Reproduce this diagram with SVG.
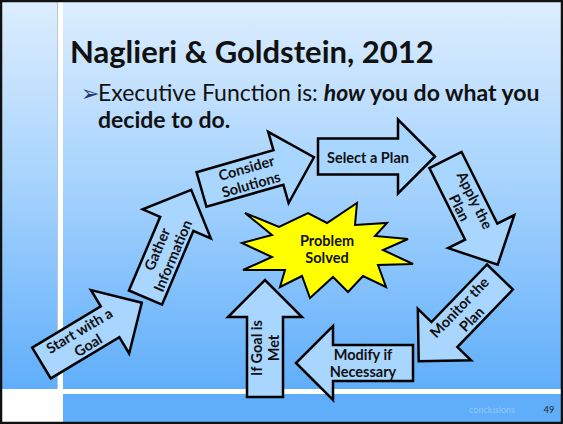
<svg xmlns="http://www.w3.org/2000/svg" width="563" height="424" viewBox="0 0 563 424">
<defs>
<linearGradient id="bg" x1="0" y1="3" x2="0" y2="389" gradientUnits="userSpaceOnUse">
<stop offset="0" stop-color="#dcedfe"/>
<stop offset="0.5" stop-color="#a2d1fd"/>
<stop offset="1" stop-color="#60aefa"/>
</linearGradient>
<style>
.arr{fill:#a9d6ff;stroke:#000;stroke-width:2.5;stroke-linejoin:miter}
.lbl{font-family:Lato,"Open Sans",sans-serif;font-weight:bold;font-size:14.5px;fill:#111;text-anchor:middle}
.star{fill:#ffff00;stroke:#000;stroke-width:2;stroke-linejoin:miter}
.body{font-family:Lato,"Open Sans",sans-serif;font-size:23px;fill:#111}
</style>
<polygon id="blk" points="0,-18 80,-18 80,-37 117,0 80,37 80,18 0,18"/>
</defs>
<!-- background -->
<rect x="0" y="0" width="563" height="424" fill="#fff"/>
<rect x="2" y="2" width="56" height="387" fill="url(#bg)"/>
<rect x="63" y="2" width="498" height="387" fill="url(#bg)"/>
<rect x="57" y="2" width="1" height="387" fill="#b8c8d8"/>
<rect x="63" y="394" width="498" height="28" fill="#60aef9"/>
<rect x="1" y="1" width="561" height="422" fill="none" stroke="#111" stroke-width="2.5"/>
<!-- title and bullet -->
<text x="70" y="63" font-family="Lato,'Open Sans',sans-serif" font-weight="bold" font-size="31" fill="#111">Naglieri &amp; Goldstein, 2012</text>
<text x="81" y="101" font-family="'DejaVu Sans',sans-serif" font-size="22" fill="#1f3a78">➢</text>
<text class="body" x="98" y="101">Executive Function is: <tspan font-weight="bold" font-style="italic">how</tspan><tspan font-weight="bold"> you do what you</tspan></text>
<text class="body" x="98" y="128" font-weight="bold">decide to do.</text>
<!-- footer -->
<text x="492" y="413" font-family="Lato,'Open Sans',sans-serif" font-size="9" fill="#8fc9fb" text-anchor="middle">conclusions</text>
<text x="549" y="413" font-family="Lato,'Open Sans',sans-serif" font-size="9" fill="#222" text-anchor="middle">49</text>
<!-- nodes -->
<g id="start" transform="translate(41.5,363) rotate(-31)">
<use href="#blk" class="arr"/>
<text class="lbl" x="49" y="-3">Start with a</text>
<text class="lbl" x="49" y="14">Goal</text>
</g>
<g id="gather" transform="translate(145.5,297.5) rotate(-67)">
<use href="#blk" class="arr"/>
<text class="lbl" x="49" y="-3">Gather</text>
<text class="lbl" x="49" y="14">Information</text>
</g>
<g id="consider" transform="translate(201.5,189.5) rotate(-16)">
<use href="#blk" class="arr"/>
<text class="lbl" x="49" y="-3">Consider</text>
<text class="lbl" x="49" y="14">Solutions</text>
</g>
<g id="select" transform="translate(318,156.5)">
<use href="#blk" class="arr"/>
<text class="lbl" x="50" y="6">Select a Plan</text>
</g>
<g id="apply" transform="translate(445.5,160) rotate(63.5)">
<use href="#blk" class="arr"/>
<text class="lbl" x="49" y="-3">Apply the</text>
<text class="lbl" x="49" y="14">Plan</text>
</g>
<g id="monitor" transform="translate(500,277) rotate(134)">
<use href="#blk" class="arr"/>
<g transform="translate(50,0) rotate(180)">
<text class="lbl" x="0" y="-3">Monitor the</text>
<text class="lbl" x="0" y="14">Plan</text>
</g>
</g>
<g id="modify" transform="translate(413,363) rotate(180)">
<use href="#blk" class="arr"/>
<g transform="translate(50,0) rotate(180)">
<text class="lbl" x="0" y="-3">Modify if</text>
<text class="lbl" x="0" y="14">Necessary</text>
</g>
</g>
<g id="ifgoal" transform="translate(265,397) rotate(-90)">
<use href="#blk" class="arr"/>
<text class="lbl" x="49" y="-3">If Goal is</text>
<text class="lbl" x="49" y="14">Met</text>
</g>
<g id="solved">
<polygon class="star" points="245,213 279,227 308,213 327,223 357,203 355,225 387,223 375,236 408,239 383,250 413,264 378,265 386,287 363,276 348,292 333,277 310,298 302,276 280,287 285,270 243,270 272,257 242,243 272,235"/>
<text class="lbl" x="327" y="246">Problem</text>
<text class="lbl" x="327" y="263">Solved</text>
</g>
<g id="connectors"></g>
</svg>
